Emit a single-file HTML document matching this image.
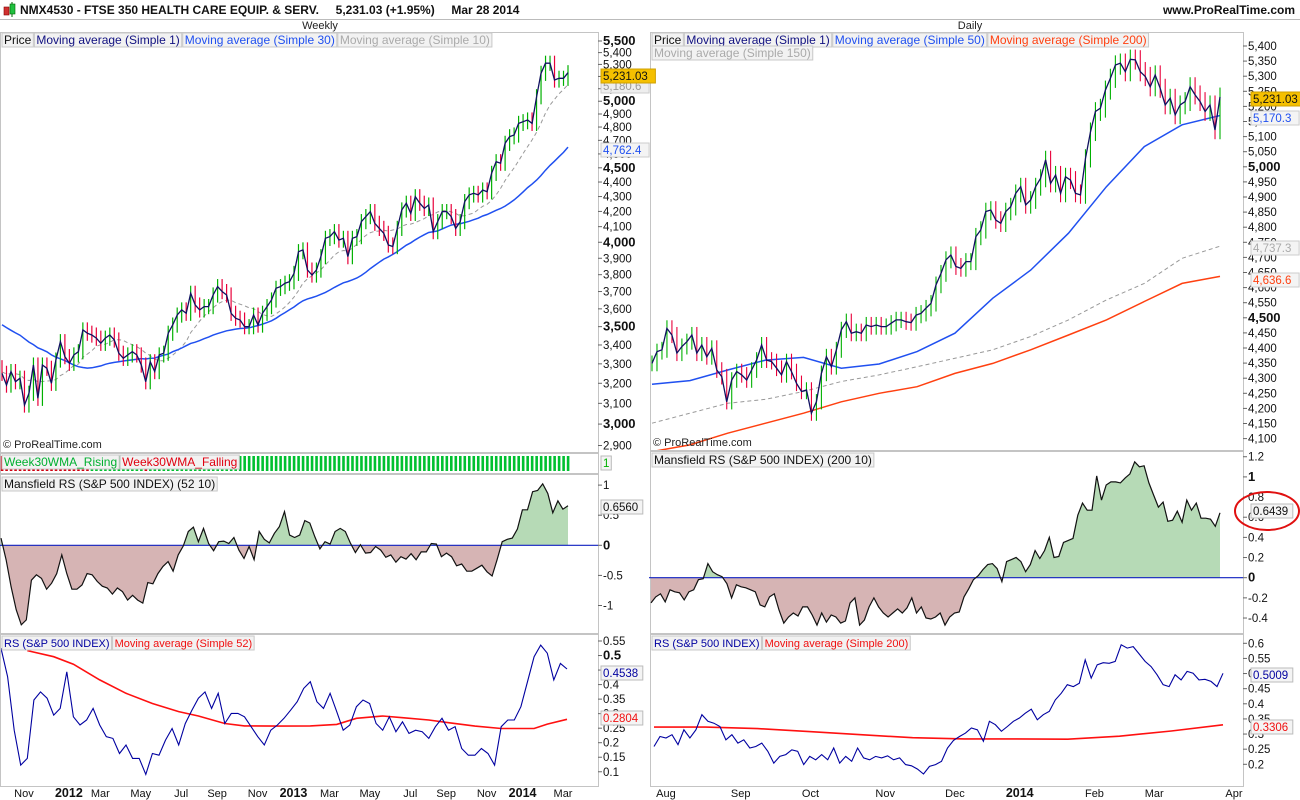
<!DOCTYPE html>
<html><head><meta charset="utf-8"><style>
html,body{margin:0;padding:0;background:#fff;}
svg{display:block;font-family:"Liberation Sans",sans-serif;}
</style></head><body>
<svg id="chart" width="1300" height="800" viewBox="0 0 1300 800" xmlns="http://www.w3.org/2000/svg">
<defs>
<clipPath id="cLP"><rect x="1" y="32" width="597" height="420"/></clipPath>
<clipPath id="cRP"><rect x="651" y="32" width="592" height="418"/></clipPath>
<clipPath id="cLMup"><rect x="1" y="475" width="597" height="70.3"/></clipPath>
<clipPath id="cLMdn"><rect x="1" y="545.3" width="597" height="88"/></clipPath>
<clipPath id="cRMup"><rect x="651" y="452" width="592" height="125.7"/></clipPath>
<clipPath id="cRMdn"><rect x="651" y="577.7" width="592" height="56"/></clipPath>
<clipPath id="cLR"><rect x="1" y="635" width="597" height="151"/></clipPath>
<clipPath id="cRR"><rect x="651" y="635" width="592" height="151"/></clipPath>
</defs>
<rect x="0" y="0" width="1300" height="800" fill="#fff"/>
<g>
<rect x="4" y="7" width="5" height="8" fill="#d03030" stroke="#800" stroke-width="0.6"/>
<line x1="12" y1="2" x2="12" y2="17" stroke="#060" stroke-width="1"/>
<rect x="10" y="4" width="5" height="10" fill="#20c040" stroke="#060" stroke-width="0.6"/>
<text x="20" y="14" font-size="12" font-weight="bold" fill="#111" xml:space="preserve">NMX4530 - FTSE 350 HEALTH CARE EQUIP. &amp; SERV.     5,231.03 (+1.95%)     Mar 28 2014</text>
<text x="1295" y="14" font-size="12" font-weight="bold" fill="#111" text-anchor="end">www.ProRealTime.com</text>
<line x1="0" y1="19.5" x2="1300" y2="19.5" stroke="#bbb"/>
<text x="320" y="29" font-size="11" fill="#222" text-anchor="middle">Weekly</text>
<text x="970" y="29" font-size="11" fill="#222" text-anchor="middle">Daily</text>
</g>
<g id="panes"></g>
<g id="marks"></g>
<g id="overlay"></g>
<ellipse cx="1267" cy="511" rx="32" ry="19" fill="none" stroke="#e01010" stroke-width="2"/>
</svg>
<script>
// ---------- DATA ----------
const weeklyPre = [3620,3680,3700,3650,3600,3660,3710,3690,3640,3600,3620,3680,3700,3660,3620,3650,3690,3640,3600,3560,3400,3300,3250,3200,3280,3300,3240,3220,3260,3280];
const weeklyClose = [3251,3191,3260,3208,3226,3092,3150,3294,3125,3294,
3277,3200,3320,3418,3338,3303,3347,3364,3482,3464,
3454,3437,3409,3437,3454,3427,3356,3329,3347,3364,
3347,3294,3208,3311,3260,3347,3356,3464,3509,3565,
3594,3575,3690,3622,3594,3613,3613,3680,3729,3700,
3680,3575,3547,3537,3500,3500,3565,3509,3575,3613,
3651,3719,3729,3749,3758,3808,3941,3952,3828,3798,
3828,3910,4025,4036,4068,4014,4025,3910,4025,4036,
4133,4166,4199,4122,4089,4057,3983,3973,4089,4210,
4255,4187,4299,4255,4220,4243,4068,4133,4199,4199,
4166,4089,4133,4266,4311,4322,4311,4345,4333,4461,
4544,4533,4678,4727,4740,4828,4841,4854,4828,5036,
5226,5310,5310,5171,5185,5185,5231];
const weeklyMansfield = [0.12,-0.24,-0.69,-1.07,-1.32,-1.24,-0.58,-0.49,-0.55,-0.73,-0.63,-0.47,-0.16,-0.47,-0.73,-0.73,-0.66,-0.47,-0.49,-0.60,-0.68,-0.71,-0.81,-0.71,-0.77,-0.91,-0.83,-0.91,-0.96,-0.62,-0.64,-0.47,-0.35,-0.27,-0.43,-0.16,-0.01,0.23,0.30,0.06,0.28,0.03,-0.09,0.06,0.07,0.03,0.13,-0.08,-0.22,-0.02,-0.24,0.23,0.10,0.04,0.20,0.31,0.56,0.17,0.13,0.17,0.41,0.37,0.14,-0.06,0.06,0.02,0.23,0.28,0.23,0.04,-0.12,0.01,-0.13,-0.12,-0.02,-0.08,-0.20,-0.16,-0.28,-0.19,-0.23,-0.14,-0.24,-0.11,-0.11,0.03,0.02,-0.19,-0.13,-0.19,-0.34,-0.31,-0.43,-0.43,-0.38,-0.33,-0.44,-0.51,-0.24,0.06,0.10,0.12,0.27,0.59,0.59,0.89,0.91,1.02,0.86,0.54,0.74,0.60,0.656];
const weeklyRS = [0.525,0.427,0.243,0.123,0.146,0.347,0.375,0.353,0.295,0.318,0.444,0.289,0.261,0.278,0.318,0.261,0.221,0.215,0.163,0.192,0.146,0.146,0.091,0.163,0.157,0.209,0.249,0.192,0.266,0.312,0.353,0.375,0.318,0.370,0.266,0.301,0.301,0.289,0.255,0.221,0.192,0.243,0.261,0.284,0.312,0.341,0.387,0.410,0.341,0.318,0.370,0.307,0.243,0.261,0.324,0.347,0.335,0.266,0.243,0.289,0.238,0.272,0.232,0.243,0.238,0.215,0.255,0.284,0.243,0.255,0.180,0.157,0.157,0.180,0.163,0.123,0.255,0.278,0.278,0.324,0.410,0.496,0.536,0.508,0.416,0.473,0.4538];
const weeklyRSMaWeek = [4,8,11,15,19,23,27,30,34,37,42,47,51,54,58,61,65,68,72,76,81,83,86];
const weeklyRSMa = [0.517,0.496,0.470,0.416,0.370,0.335,0.307,0.292,0.266,0.258,0.257,0.258,0.263,0.284,0.292,0.286,0.278,0.269,0.257,0.249,0.249,0.264,0.2804];

const dailyClose = [4349,4388,4394,4465,4443,4383,4405,4421,4443,4383,
4410,4371,4399,4327,4305,4222,4294,4322,4311,4294,
4327,4360,4410,4360,4355,4333,4311,4355,4322,4283,
4256,4261,4184,4222,4316,4371,4338,4394,4460,4487,
4449,4454,4449,4476,4471,4476,4471,4471,4482,4493,
4493,4487,4484,4509,4515,4532,4548,4609,4647,4692,
4708,4670,4664,4686,4686,4769,4791,4852,4857,4824,
4813,4852,4868,4912,4934,4874,4890,4934,4962,5023,
4945,4973,4912,4967,4956,4912,4907,5028,5116,5183,
5194,5254,5293,5337,5343,5315,5356,5354,5315,5299,
5265,5304,5260,5205,5227,5172,5205,5216,5265,5238,
5216,5183,5205,5122,5231];
const dailyMa50 = [4280,4292,4327,4360,4369,4333,4347,4388,4449,4565,4658,4780,4934,5067,5139,5170];
const dailyMa150 = [4151,4184,4217,4230,4256,4289,4311,4338,4366,4394,4438,4493,4559,4614,4697,4737];
const dailyMa200 = [4057,4079,4118,4151,4184,4222,4250,4272,4316,4349,4394,4443,4493,4554,4614,4637];
const dailyMansfield = [-0.25,-0.19,-0.16,-0.24,-0.12,-0.14,-0.15,-0.22,-0.14,-0.12,-0.02,-0.01,0.14,0.06,0.03,0.01,-0.06,-0.20,-0.07,-0.09,-0.10,-0.12,-0.14,-0.27,-0.29,-0.19,-0.16,-0.32,-0.45,-0.39,-0.35,-0.38,-0.29,-0.29,-0.37,-0.47,-0.35,-0.44,-0.37,-0.39,-0.45,-0.43,-0.25,-0.20,-0.47,-0.42,-0.29,-0.20,-0.29,-0.35,-0.39,-0.35,-0.31,-0.35,-0.30,-0.20,-0.35,-0.29,-0.40,-0.41,-0.39,-0.35,-0.47,-0.39,-0.35,-0.34,-0.19,-0.11,-0.02,0.02,0.08,0.13,0.14,0.09,-0.04,0.16,0.18,0.20,0.16,0.06,0.13,0.27,0.19,0.27,0.40,0.20,0.21,0.35,0.37,0.39,0.62,0.74,0.67,0.67,1.01,0.77,0.92,0.95,0.95,0.94,0.99,1.03,1.15,1.10,1.11,0.94,0.82,0.70,0.75,0.56,0.57,0.66,0.55,0.77,0.67,0.74,0.59,0.59,0.58,0.51,0.6439];
const dailyRS = [0.259,0.292,0.287,0.298,0.265,0.314,0.287,0.314,0.364,0.342,0.336,0.325,0.281,0.298,0.270,0.281,0.254,0.259,0.270,0.243,0.204,0.226,0.232,0.248,0.243,0.199,0.226,0.215,0.232,0.215,0.254,0.204,0.226,0.210,0.254,0.221,0.215,0.226,0.221,0.228,0.215,0.221,0.199,0.195,0.184,0.168,0.193,0.199,0.210,0.254,0.279,0.292,0.303,0.320,0.314,0.276,0.342,0.331,0.309,0.325,0.342,0.353,0.369,0.382,0.347,0.364,0.375,0.413,0.435,0.463,0.457,0.468,0.545,0.485,0.529,0.536,0.534,0.540,0.595,0.584,0.589,0.565,0.540,0.523,0.496,0.463,0.457,0.496,0.479,0.507,0.501,0.479,0.481,0.474,0.457,0.5009];
const dailyRSMa = [0.323,0.323,0.318,0.308,0.298,0.288,0.284,0.284,0.283,0.293,0.310,0.3306];

const weeklyPriceTicks = [5500,5400,5300,5200,5100,5000,4900,4800,4700,4600,4500,4400,4300,4200,4100,4000,3900,3800,3700,3600,3500,3400,3300,3200,3100,3000,2900];
const dailyPriceTicks = [5400,5350,5300,5250,5200,5150,5100,5050,5000,4950,4900,4850,4800,4750,4700,4650,4600,4550,4500,4450,4400,4350,4300,4250,4200,4150,4100];
const weeklyMansTicks = [1,0.5,0,-0.5,-1];
const dailyMansTicks = [1.2,1,0.8,0.6,0.4,0.2,0,-0.2,-0.4];
const weeklyRSTicks = [0.55,0.5,0.45,0.4,0.35,0.3,0.25,0.2,0.15,0.1];
const dailyRSTicks = [0.6,0.55,0.5,0.45,0.4,0.35,0.3,0.25,0.2];
const weeklyMonthLabels = ["Nov","2012","Mar","May","Jul","Sep","Nov","2013","Mar","May","Jul","Sep","Nov","2014","Mar"];
const weeklyMonthWeek = [4,14,21,30,39,47,56,64,72,81,90,98,107,115,124];
const dailyMonthLabels = ["Aug","Sep","Oct","Nov","Dec","2014","Feb","Mar","Apr"];
const dailyMonthDay = [2,17,31,46,60,73,88,100,116];

// ---------- SCALES ----------
const yW = p => 41 + 632*Math.log(5500/p);
const yD = p => 46 + (5400-p)*0.302;
const yML = v => 545.3 - v*60.2;
const yMR = v => 577.7 - v*100.8;
const yRL = v => 641 + (0.55-v)*290.6;
const yRR = v => 643.3 + (0.6-v)*302.5;
const xW = i => 2 + i*(568-2)/(weeklyClose.length-1);
const xD = i => 652 + i*(1220-652)/(dailyClose.length-1);
const xDi = (i,n) => 652 + i*(1220-652)/(n-1);

const NS = "http://www.w3.org/2000/svg";
const panes = document.getElementById('panes');
const marks = document.getElementById('marks');
const overlay = document.getElementById('overlay');
function mk(tag, attrs, parent){
  const e = document.createElementNS(NS, tag);
  for (const k in attrs) e.setAttribute(k, attrs[k]);
  (parent||marks).appendChild(e);
  return e;
}
function txt(x,y,s,attrs,parent){
  const e = mk('text', Object.assign({x:x,y:y,'font-size':11,fill:'#222'},attrs||{}), parent||overlay);
  e.textContent = s;
  return e;
}
function pathFrom(xs, ys){
  let d='';
  for(let i=0;i<xs.length;i++) d += (i?'L':'M')+xs[i].toFixed(1)+','+ys[i].toFixed(1);
  return d;
}

// ---------- PANE FRAMES ----------
const frames = [
 ['weekly-price-pane',0.5,32.5,598,420],['weekly-trend-strip',0.5,453.5,598,20],['weekly-mansfield-pane',0.5,474.5,598,159],['weekly-rs-pane',0.5,634.5,598,152],
 ['daily-price-pane',650.5,32.5,593,418],['daily-mansfield-pane',650.5,451.5,593,182],['daily-rs-pane',650.5,634.5,593,152]
];
frames.forEach(f=>{
  const r = mk('rect',{x:f[1],y:f[2],width:f[3],height:f[4],fill:'#fff',stroke:'#c4c4c4','stroke-width':1},panes);
  
  
});

// ---------- WEEKLY PRICE ----------
const allW = weeklyPre.concat(weeklyClose);
function sma(arr, n, i){ let s=0,c=0; for(let k=Math.max(0,i-n+1);k<=i;k++){s+=arr[k];c++;} return s/c; }
const gWP = mk('g',{'clip-path':'url(#cLP)'});


const ma30x=[],ma30y=[],ma10x=[],ma10y=[];
for(let i=0;i<weeklyClose.length;i++){
  const j=i+weeklyPre.length;
  ma30x.push(xW(i)); ma30y.push(yW(sma(allW,30,j)));
  ma10x.push(xW(i)); ma10y.push(yW(sma(allW,10,j)));
}
const m10 = mk('path',{d:pathFrom(ma10x,ma10y),fill:'none',stroke:'#999','stroke-width':1,'stroke-dasharray':'4,3'},gWP);


const m30 = mk('path',{d:pathFrom(ma30x,ma30y),fill:'none',stroke:'#2050f0','stroke-width':1.5},gWP);


for(let i=0;i<weeklyClose.length;i++){
  const c=weeklyClose[i], o=i?weeklyClose[i-1]:allW[weeklyPre.length-1];
  const hi=Math.max(o,c)*1.012, lo=Math.min(o,c)*0.988;
  const b = mk('line',{x1:xW(i),x2:xW(i),y1:yW(hi),y2:yW(lo),stroke:c>=o?'#00b000':'#e8003a','stroke-width':1.2},gWP);
  
  
}
const wl = mk('path',{d:pathFrom(weeklyClose.map((v,i)=>xW(i)),weeklyClose.map(yW)),fill:'none',stroke:'#101060','stroke-width':1.3},gWP);



// ---------- WEEKLY TREND STRIP ----------
for(let i=0;i<weeklyClose.length;i++){
  const j=i+weeklyPre.length;
  const rising = sma(allW,30,j) >= sma(allW,30,j-1);
  const s = mk('rect',{x:xW(i)-1.2,y:456,width:2.6,height:15,fill:rising?'#00c030':'#d00010'});
  
  
}

// ---------- MANSFIELD ----------
function frameRight(p){ return p.indexOf('weekly')===0 ? 598 : 1243; }
function mansfield(vals, xf, yf, zeroY, clipUp, clipDn, prefix){
  const xs=vals.map((v,i)=>xf(i)), ys=vals.map(yf);
  const area = pathFrom(xs,ys)+'L'+xs[xs.length-1]+','+zeroY+'L'+xs[0]+','+zeroY+'Z';
  const up = mk('path',{d:area,fill:'#b6dab6','clip-path':'url(#'+clipUp+')'});
  
  
  const dn = mk('path',{d:area,fill:'#d6b4b4','clip-path':'url(#'+clipDn+')'});
  
  
  const z = mk('line',{x1:xf(0)-2,x2:frameRight(prefix),y1:zeroY,y2:zeroY,stroke:'#1020c0','stroke-width':1.2});
  
  
  const l = mk('path',{d:pathFrom(xs,ys),fill:'none',stroke:'#111','stroke-width':1.2});
  
  
}
mansfield(weeklyMansfield, i=>1+i*(568-1)/(weeklyMansfield.length-1), yML, yML(0), 'cLMup','cLMdn','weekly-mansfield');
mansfield(dailyMansfield, i=>651+i*(1220-651)/(dailyMansfield.length-1), yMR, yMR(0), 'cRMup','cRMdn','daily-mansfield');

// ---------- RS ----------
const gLR = mk('g',{'clip-path':'url(#cLR)'});


const xWR = i => 1 + i*(567-1)/(weeklyRS.length-1);
const rsma = mk('path',{d:pathFrom(weeklyRSMaWeek.map(xWR),weeklyRSMa.map(yRL)),fill:'none',stroke:'#ff1010','stroke-width':1.6},gLR);


const rsl = mk('path',{d:pathFrom(weeklyRS.map((v,i)=>xWR(i)),weeklyRS.map(yRL)),fill:'none',stroke:'#0000a0','stroke-width':1.1},gLR);



const gRR = mk('g',{'clip-path':'url(#cRR)'});


const xDR = i => 654 + i*(1223-654)/(dailyRS.length-1);
const drm = mk('path',{d:pathFrom(dailyRSMa.map((v,i)=>654+i*(1223-654)/(dailyRSMa.length-1)),dailyRSMa.map(yRR)),fill:'none',stroke:'#ff1010','stroke-width':1.6},gRR);


const drl = mk('path',{d:pathFrom(dailyRS.map((v,i)=>xDR(i)),dailyRS.map(yRR)),fill:'none',stroke:'#0000a0','stroke-width':1.1},gRR);



// ---------- DAILY PRICE ----------
const gDP = mk('g',{'clip-path':'url(#cRP)'});


const d150 = mk('path',{d:pathFrom(dailyMa150.map((v,i)=>xDi(i,dailyMa150.length)),dailyMa150.map(yD)),fill:'none',stroke:'#999','stroke-width':1,'stroke-dasharray':'4,3'},gDP);


const d200 = mk('path',{d:pathFrom(dailyMa200.map((v,i)=>xDi(i,dailyMa200.length)),dailyMa200.map(yD)),fill:'none',stroke:'#ff4010','stroke-width':1.5},gDP);


const d50 = mk('path',{d:pathFrom(dailyMa50.map((v,i)=>xDi(i,dailyMa50.length)),dailyMa50.map(yD)),fill:'none',stroke:'#2050f0','stroke-width':1.5},gDP);


for(let i=0;i<dailyClose.length;i++){
  const c=dailyClose[i], o=i?dailyClose[i-1]:c;
  const hi=Math.max(o,c)*1.006, lo=Math.min(o,c)*0.994;
  const b = mk('line',{x1:xD(i),x2:xD(i),y1:yD(hi),y2:yD(lo),stroke:c>=o?'#00b000':'#e8003a','stroke-width':1.1},gDP);
  
  
}
const dl = mk('path',{d:pathFrom(dailyClose.map((v,i)=>xD(i)),dailyClose.map(yD)),fill:'none',stroke:'#101060','stroke-width':1.3},gDP);



// ---------- AXES ----------
function ticks(list, yf, x0, boldFn, fmt, name){
  list.forEach(v=>{
    const y=yf(v);
    const t = mk('line',{x1:x0,x2:x0+4,y1:y,y2:y,stroke:'#666'},overlay);
    
    
    const b = boldFn(v);
    const tx = txt(x0+5,y+4,fmt(v),{'font-size':b?13:11.5,'font-weight':b?'bold':'normal',fill:'#111'});
    
    
  });
}
const fmtK = v => v.toLocaleString('en-US');
ticks(weeklyPriceTicks, yW, 598, v=>v%500===0, fmtK, 'weekly-price-axis');
ticks(dailyPriceTicks, yD, 1243, v=>v%500===0, fmtK, 'daily-price-axis');
ticks(weeklyMansTicks, yML, 598, v=>v===0, v=>String(v), 'weekly-mansfield-axis');
ticks(dailyMansTicks, yMR, 1243, v=>v===0||v===1, v=>String(v), 'daily-mansfield-axis');
ticks(weeklyRSTicks, yRL, 598, v=>v===0.5, v=>String(v), 'weekly-rs-axis');
ticks(dailyRSTicks, yRR, 1243, v=>false, v=>String(v), 'daily-rs-axis');

weeklyMonthLabels.forEach((s,i)=>{
  const b = /^\d{4}$/.test(s);
  const t = txt(xW(weeklyMonthWeek[i])+4, 797, s, {'font-size':b?12.5:11,'font-weight':b?'bold':'normal','text-anchor':'middle',fill:'#111'});
  
  
});
dailyMonthLabels.forEach((s,i)=>{
  const b = /^\d{4}$/.test(s);
  const t = txt(xD(dailyMonthDay[i])+4, 797, s, {'font-size':b?12.5:11,'font-weight':b?'bold':'normal','text-anchor':'middle',fill:'#111'});
  
  
});

// ---------- VALUE BOXES ----------
function vbox(x,y,s,fill,color,stroke,name){
  const w = s.length*6.3+4;
  const r = mk('rect',{x:x,y:y-7,width:w,height:14,fill:fill,stroke:stroke,'stroke-width':1},overlay);
  
  
  const t = txt(x+2,y+4,s,{'font-size':11.5,fill:color});
  
  
}
vbox(601,86,'5,180.6','#eee','#999','#ccc','weekly-ma10');
vbox(601,76,'5,231.03','#f5c000','#111','#d0a000','weekly-last-price');
vbox(601,150,'4,762.4','#f4f4f4','#2050f0','#ccc','weekly-ma30');
vbox(601,507,'0.6560','#f4f4f4','#111','#bbb','weekly-mansfield');
vbox(601,673,'0.4538','#f4f4f4','#0000a0','#bbb','weekly-rs');
vbox(601,718,'0.2804','#f4f4f4','#f01010','#bbb','weekly-rs-ma');
vbox(1251,99,'5,231.03','#f5c000','#111','#d0a000','daily-last-price');
vbox(1251,118,'5,170.3','#f4f4f4','#2050f0','#ccc','daily-ma50');
vbox(1251,248,'4,737.3','#f4f4f4','#aaa','#ccc','daily-ma150');
vbox(1251,280,'4,636.6','#f4f4f4','#ff4010','#ccc','daily-ma200');
vbox(1251,511,'0.6439','#f4f4f4','#111','#bbb','daily-mansfield');
vbox(1251,675,'0.5009','#f4f4f4','#0000a0','#bbb','daily-rs');
vbox(1251,727,'0.3306','#f4f4f4','#f01010','#bbb','daily-rs-ma');
vbox(601,463,'1','#f4f4f4','#00b000','#bbb','trend-strip');

// ---------- LEGENDS ----------
function legend(x,y,items,name,fs){
  let cx=x;
  items.forEach(it=>{
    const r = mk('rect',{x:cx,y:y,width:10,height:14,fill:'#f2f2f2',stroke:'#c8c8c8'},overlay);
    
    
    const t = txt(cx+2,y+11,it[0],{'font-size':fs||12,fill:it[1]});
    
    
    let w = it[0].length*6;
    try { w = t.getComputedTextLength(); } catch(e){}
    r.setAttribute('width', w+4);
    cx += w+5;
  });
}
legend(2,33,[['Price','#111'],['Moving average (Simple 1)','#101080'],['Moving average (Simple 30)','#2050f0'],['Moving average (Simple 10)','#aaa']],'weekly-price-legend');
legend(652,33,[['Price','#111'],['Moving average (Simple 1)','#101080'],['Moving average (Simple 50)','#2050f0'],['Moving average (Simple 200)','#ff4010']],'daily-price-legend');
legend(652,46,[['Moving average (Simple 150)','#aaa']],'daily-price-legend-2');
legend(2,455,[['Week30WMA_Rising','#00b030'],['Week30WMA_Falling','#e00010']],'trend-strip-legend');
legend(2,477,[['Mansfield RS (S&P 500 INDEX) (52 10)','#111']],'weekly-mansfield-legend');
legend(652,453,[['Mansfield RS (S&P 500 INDEX) (200 10)','#111']],'daily-mansfield-legend');
legend(2,636,[['RS (S&P 500 INDEX)','#0000a0'],['Moving average (Simple 52)','#f01010']],'weekly-rs-legend',11);
legend(652,636,[['RS (S&P 500 INDEX)','#0000a0'],['Moving average (Simple 200)','#f01010']],'daily-rs-legend',11);
const c1 = txt(3,448,'© ProRealTime.com',{'font-size':11,fill:'#222'});


const c2 = txt(653,446,'© ProRealTime.com',{'font-size':11,fill:'#222'});


</script>
</body></html>
